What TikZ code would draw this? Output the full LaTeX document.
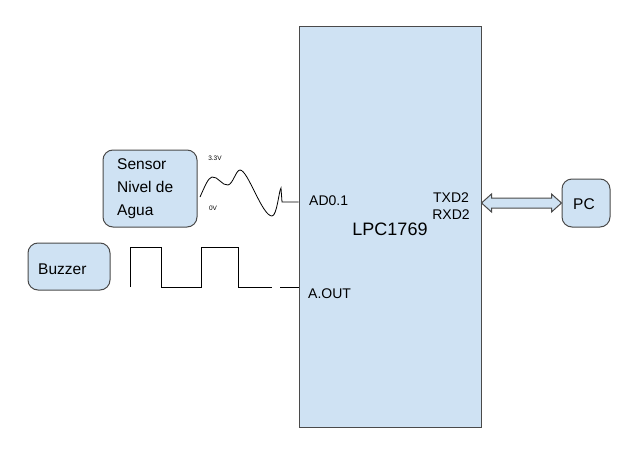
\documentclass[tikz,border=0pt]{standalone}
\usepackage{fontspec}
\setmainfont{Liberation Sans}
\usetikzlibrary{calc}
\definecolor{boxfill}{HTML}{CFE2F3}
\definecolor{boxline}{HTML}{4A4A4A}
\tikzset{
  blk/.style={draw=boxline, fill=boxfill, line width=1pt, inner sep=0pt},
  rblk/.style={blk, rounded corners=10pt},
  lbl/.style={inner sep=0pt, font=\fontsize{14}{16}\selectfont},
  tiny/.style={inner sep=0pt, font=\fontsize{6.5}{7}\selectfont},
  sig/.style={line width=0.8pt, black},
}
\begin{document}
\begin{tikzpicture}[x=1pt,y=-1pt]
\useasboundingbox (0,0) rectangle (634,460);
% main block
\node[blk, minimum width=182pt, minimum height=400pt] (lpc) at (390,227) {};
\node[inner sep=0pt, font=\fontsize{18}{20}\selectfont] (lpct) at (390,229) {LPC1769};
\node[lbl, anchor=west] (ad) at (309,201) {AD0.1};
\node[lbl, anchor=west] (aout) at (308,294) {A.OUT};
\node[lbl] (txd) at (451,198) {TXD2};
\node[lbl] (rxd) at (451,215) {RXD2};
% sensor
\node[rblk, minimum width=94pt, minimum height=77pt] (sensor) at (150,188.5) {};
\node[inner sep=0pt, anchor=west, align=left, font=\fontsize{15.5}{23}\selectfont] (sensort) at (117,189) {Sensor\\Nivel de\\Agua};
% buzzer
\node[rblk, minimum width=82pt, minimum height=47pt] (buzzer) at (69,266.5) {};
\node[inner sep=0pt, anchor=west, font=\fontsize{15.5}{18}\selectfont] (buzzert) at (38,269) {Buzzer};
% PC
\node[rblk, minimum width=48pt, minimum height=48pt] (pc) at (586,203) {};
\node[inner sep=0pt, font=\fontsize{15.5}{18}\selectfont] (pct) at (584,204) {PC};
% voltage labels
\node[tiny] (v33) at (215,158) {3.3V};
\node[tiny] (v0) at (213,208) {0V};
% analog wave
\coordinate (ws) at (200,197);
\draw[sig] (ws) .. controls (205,186) and (208,178) .. (212,177)
  .. controls (218,176) and (222,186) .. (228,185)
  .. controls (233,184) and (236,170) .. (240,170)
  .. controls (248,170) and (262,216) .. (272,216)
  .. controls (277,216) and (279,190) .. (281,188)
  -- (282,202) -- (lpc.west |- 0,202);
% square wave
\coordinate (sq) at (130,287);
\draw[sig] (sq) -- (130,247) -- (161,247) -- (161,287) -- (201,287) -- (201,247)
  -- (238,247) -- (238,287) -- (272,287);
\coordinate (sq2) at (280,287);
\draw[sig] (sq2) -- (lpc.west |- sq2);
% double arrow
\coordinate (a1) at (lpc.east |- pc.west);
\coordinate (a2) at (pc.west);
\draw[draw=boxline, fill=boxfill, line width=1pt, line join=miter]
  (a1) -- ($(a1)+(10,-9)$) -- ($(a1)+(10,-5)$) -- ($(a2)+(-10,-5)$) -- ($(a2)+(-10,-9)$)
  -- (a2) -- ($(a2)+(-10,9)$) -- ($(a2)+(-10,5)$) -- ($(a1)+(10,5)$) -- ($(a1)+(10,9)$) -- cycle;
\end{tikzpicture}
\end{document}
